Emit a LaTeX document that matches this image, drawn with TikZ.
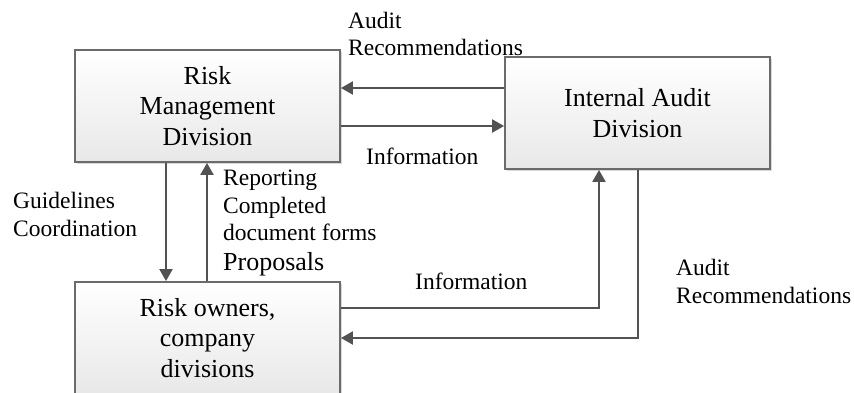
\documentclass[tikz,border=0pt]{standalone}
\usepackage{fontspec}
\setmainfont{Liberation Serif}
\usetikzlibrary{arrows.meta,shadows}
\begin{document}
\begin{tikzpicture}[x=1pt,y=-1pt,
  box/.style={draw=black!58, line width=1.8pt, top color=white, bottom color=black!9,
    minimum width=265pt, minimum height=112pt, inner sep=0pt, align=center,
    font=\fontsize{26}{30.5}\selectfont,
    drop shadow={shadow xshift=1.5pt, shadow yshift=-1.5pt, fill=black!25, opacity=0.6}},
  flow/.style={draw=black!68, line width=2pt, -{Triangle[length=12pt,width=13pt]}},
  lbl/.style={anchor=base west, inner sep=0pt, font=\fontsize{23.5}{27.5}\selectfont},
  big/.style={anchor=base west, inner sep=0pt, font=\fontsize{26}{30}\selectfont}]
\useasboundingbox (0,0) rectangle (854,392);
\clip (0,0) rectangle (854,392);

% the three divisions
\node[box] (rmd) at (207.5,106) {Risk\\Management\\Division};
\node[box] (iad) at (637.5,113) {Internal Audit\\Division};
\node[box] (roc) at (207.5,338) {Risk owners,\\company\\divisions};

% flows between risk management and internal audit
\draw[flow] (iad.west |- 0,88) -- (rmd.east |- 0,88);
\draw[flow] (rmd.east |- 0,126) -- (iad.west |- 0,126);

% flows between risk management and the risk owners
\draw[flow] (rmd.south -| 166,0) -- (roc.north -| 166,0);
\draw[flow] (roc.north -| 207,0) -- (rmd.south -| 207,0);

% flows between the risk owners and internal audit
\draw[flow] (roc.east |- 0,308) -| (iad.south -| 599,0);
\draw[flow] (iad.south -| 638,0) |- (roc.east |- 0,338);

% labels
\node[lbl] (ar1) at (348,28) {Audit};
\node[lbl] (ar2) at (348,55) {Recommendations};
\node[lbl] (inf1) at (366,164) {Information};
\node[lbl] (gd1) at (13,208) {Guidelines};
\node[lbl] (gd2) at (13,236) {Coordination};
\node[lbl] (rp1) at (223,185) {Reporting};
\node[lbl] (rp2) at (223,213) {Completed};
\node[lbl] (rp3) at (223,240) {document forms};
\node[big] (rp4) at (223,270) {Proposals};
\node[lbl] (inf2) at (415,289) {Information};
\node[lbl] (ar3) at (676,275) {Audit};
\node[lbl] (ar4) at (676,303) {Recommendations};
\end{tikzpicture}
\end{document}
